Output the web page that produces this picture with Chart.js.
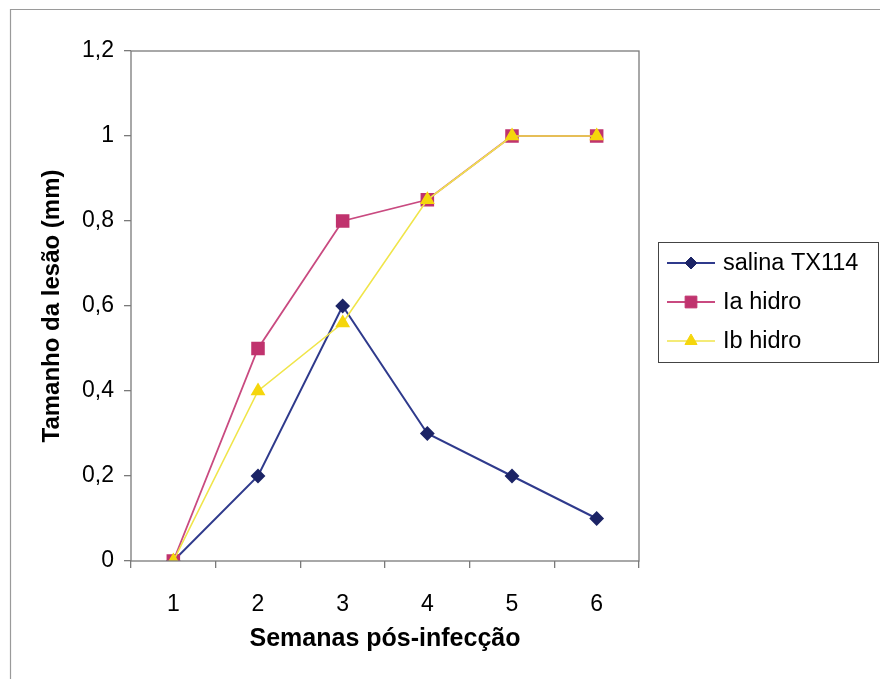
<!DOCTYPE html>
<html>
<head>
<meta charset="utf-8">
<script src="https://cdn.jsdelivr.net/npm/chart.js@4/dist/chart.umd.min.js"></script>
<style>
  body { margin: 0; background: #fff; }
  canvas { display: block; }
</style>
</head>
<body>
<canvas id="chart" width="880" height="679"></canvas>
<script>
// data
const semanas = ['1', '2', '3', '4', '5', '6'];
const salinaTX114 = [0, 0.2, 0.6, 0.3, 0.2, 0.1];
const iaHidro = [0, 0.5, 0.8, 0.85, 1, 1];
const ibHidro = [0, 0.4, 0.56, 0.85, 1, 1];
const yTicks = [0, 0.2, 0.4, 0.6, 0.8, 1, 1.2];

const FONT = '"Liberation Sans", Arial, sans-serif';

// outer frame + plot border
const framePlugin = {
  id: 'frame',
  beforeDraw(chart) {
    const ctx = chart.ctx;
    ctx.save();
    ctx.fillStyle = '#fff';
    ctx.fillRect(0, 0, chart.width, chart.height);
    ctx.strokeStyle = '#9a9a9a';
    ctx.lineWidth = 1.2;
    ctx.beginPath();
    ctx.moveTo(10.5, chart.height);
    ctx.lineTo(10.5, 9.5);
    ctx.lineTo(chart.width, 9.5);
    ctx.stroke();
    ctx.restore();
  },
  afterDatasetsDraw(chart) {
    const a = chart.chartArea;
    const ctx = chart.ctx;
    ctx.save();
    ctx.strokeStyle = '#7a7a7a';
    ctx.lineWidth = 1.3;
    ctx.strokeRect(a.left, a.top, a.right - a.left, a.bottom - a.top);
    ctx.restore();
  }
};

// legend box on the right, like the Excel one
const legendPlugin = {
  id: 'boxLegend',
  afterDraw(chart) {
    const ctx = chart.ctx;
    const x0 = 658.5, y0 = 242.5, w = 220, h = 120;
    const rows = [263, 302, 341];
    ctx.save();
    ctx.strokeStyle = '#444';
    ctx.lineWidth = 1;
    ctx.strokeRect(x0, y0, w, h);
    chart.data.datasets.forEach((ds, i) => {
      const y = rows[i];
      ctx.strokeStyle = ds.borderColor;
      ctx.lineWidth = ds.borderWidth;
      ctx.beginPath();
      ctx.moveTo(667, y);
      ctx.lineTo(715, y);
      ctx.stroke();
      ctx.fillStyle = ds.pointBackgroundColor;
      ctx.strokeStyle = ds.pointBorderColor;
      ctx.lineWidth = 1;
      Chart.helpers.drawPoint(ctx, { pointStyle: ds.pointStyle, radius: ds.pointRadius, borderWidth: 1, rotation: 0 }, 691, y);
      ctx.fillStyle = '#000';
      ctx.font = '23.5px ' + FONT;
      ctx.textAlign = 'left';
      ctx.textBaseline = 'middle';
      ctx.fillText(ds.label, 723, y + 1);
    });
    ctx.restore();
  }
};

new Chart(document.getElementById('chart'), {
  type: 'line',
  data: {
    labels: semanas,
    datasets: [
      {
        label: 'salina TX114',
        data: salinaTX114,
        borderColor: '#2f3a8c',
        borderWidth: 2,
        pointStyle: 'rectRot',
        pointRadius: 6,
        pointBackgroundColor: '#1c2466',
        pointBorderColor: '#1c2466',
        order: 2
      },
      {
        label: 'Ia hidro',
        data: iaHidro,
        borderColor: '#c94a80',
        borderWidth: 1.8,
        pointStyle: 'rect',
        pointRadius: 8.3,
        pointBackgroundColor: '#c0336e',
        pointBorderColor: '#c0336e',
        order: 1
      },
      {
        label: 'Ib hidro',
        data: ibHidro,
        borderColor: '#f0e54a',
        borderWidth: 1.6,
        pointStyle: 'triangle',
        pointRadius: 7,
        pointBackgroundColor: '#f5d60c',
        pointBorderColor: '#f5d60c',
        order: 0
      }
    ]
  },
  options: {
    responsive: false,
    animation: false,
    layout: { padding: { top: 51, right: 241, bottom: 0, left: 0 } },
    plugins: {
      legend: { display: false },
      tooltip: { enabled: false }
    },
    elements: { line: { tension: 0 } },
    scales: {
      x: {
        offset: true,
        grid: { offset: true, drawOnChartArea: false, tickLength: 7, color: '#7a7a7a', lineWidth: 1.3 },
        border: { display: false },
        ticks: { color: '#000', padding: 23, font: { family: FONT, size: 23 } },
        title: {
          display: true,
          text: 'Semanas pós-infecção',
          color: '#000',
          font: { family: FONT, size: 25, weight: 'bold' },
          padding: { top: 0, bottom: 25 }
        },
        afterFit(s) { s.height = 118; }
      },
      y: {
        min: 0,
        max: 1.2,
        afterBuildTicks(s) { s.ticks = yTicks.map(v => ({ value: v })); },
        grid: { drawOnChartArea: false, tickLength: 7, color: '#7a7a7a', lineWidth: 1.3 },
        border: { display: false },
        ticks: {
          color: '#000',
          padding: 10,
          font: { family: FONT, size: 23 },
          callback: v => String(Number(v.toFixed(1))).replace('.', ',')
        },
        title: {
          display: true,
          text: 'Tamanho da lesão (mm)',
          color: '#000',
          font: { family: FONT, size: 24, weight: 'bold' },
          padding: { top: 38, bottom: 0 }
        },
        afterFit(s) { s.width = 131; }
      }
    }
  },
  plugins: [framePlugin, legendPlugin]
});
</script>
</body>
</html>
